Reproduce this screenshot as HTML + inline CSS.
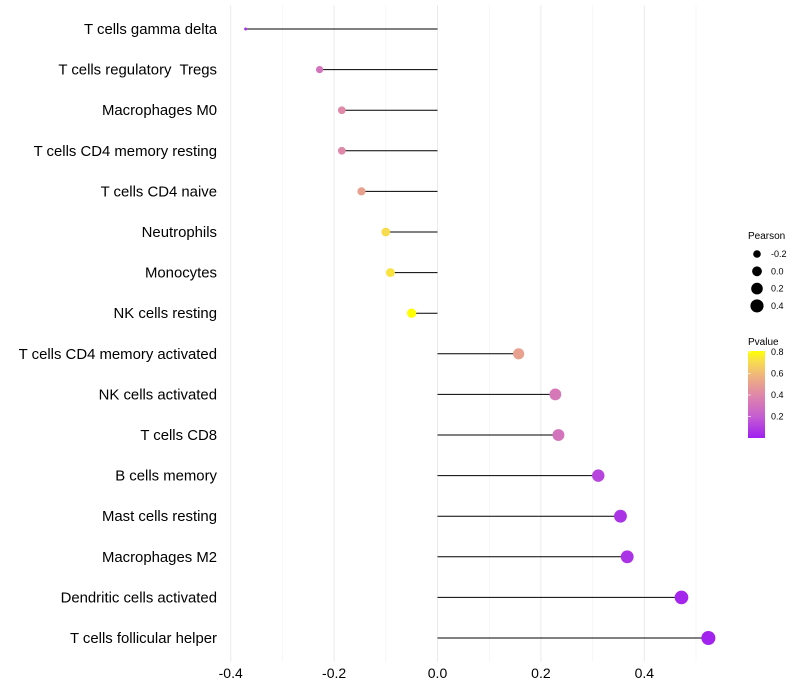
<!DOCTYPE html>
<html><head><meta charset="utf-8"><style>
html,body{margin:0;padding:0;background:#fff;}
svg{display:block;font-family:"Liberation Sans",Arial,sans-serif;}
text{white-space:pre;}
</style></head><body>
<svg id="chart" width="800" height="700">
<defs>
<linearGradient id="pgrad" x1="0" y1="1" x2="0" y2="0">
<stop offset="0" stop-color="#a020f0"/>
<stop offset="0.25" stop-color="#c65ed0"/>
<stop offset="0.5" stop-color="#e088a8"/>
<stop offset="0.7" stop-color="#eeb080"/>
<stop offset="0.88" stop-color="#f8dc50"/>
<stop offset="1" stop-color="#ffff00"/>
</linearGradient>
</defs>
<g id="grid"></g>
<g id="marks"></g>
<g id="ylabels"></g>
<g id="xlabels"></g>
<g font-size="9">
<text x="748" y="239" font-size="10">Pearson</text>
<g id="sizeleg"></g>
</g>
<g font-size="9">
<text x="748" y="345" font-size="10">Pvalue</text>
<rect x="748" y="351" width="17" height="87" fill="url(#pgrad)"/>
<g id="colleg"></g>
</g>
</svg>
<script>
const categories=["T cells gamma delta","T cells regulatory  Tregs","Macrophages M0","T cells CD4 memory resting","T cells CD4 naive","Neutrophils","Monocytes","NK cells resting","T cells CD4 memory activated","NK cells activated","T cells CD8","B cells memory","Mast cells resting","Macrophages M2","Dendritic cells activated","T cells follicular helper"];
const pearson=[-0.373,-0.23,-0.187,-0.187,-0.149,-0.102,-0.093,-0.052,0.155,0.226,0.232,0.309,0.352,0.365,0.47,0.522];
const pvalue=[0.05,0.3,0.4,0.4,0.5,0.7,0.72,0.88,0.5,0.32,0.3,0.12,0.06,0.06,0.02,0.01];
const xTicks=[-0.4,-0.2,0,0.2,0.4];
const xTickLabels=["-0.4","-0.2","0.0","0.2","0.4"];
const xMinor=[-0.3,-0.1,0.1,0.3,0.5];
const sizeLegend=[-0.2,0.0,0.2,0.4];
const sizeLegendLabels=["-0.2","0.0","0.2","0.4"];
const colorTicks=[0.2,0.4,0.6,0.8];
const colorTickLabels=["0.2","0.4","0.6","0.8"];

const NS="http://www.w3.org/2000/svg";
function X(v){return 437.5+v*517;}
function Y(i){return 29+i*40.6;}
function R(v){return v< -0.3 ? 1.5 : Math.sqrt(13+Math.max(0,v+0.23)/0.75*36);}
function col(p){
  const stops=[[0,[160,32,240]],[0.2,[198,94,208]],[0.4,[224,136,168]],[0.56,[238,176,128]],[0.7,[248,220,80]],[0.8,[255,255,0]]];
  p=Math.max(0,Math.min(0.8,p));
  for(let k=1;k<stops.length;k++){if(p<=stops[k][0]){const a=stops[k-1],b=stops[k];const t=(p-a[0])/(b[0]-a[0]);return "rgb("+a[1].map((c,j)=>Math.round(c+(b[1][j]-c)*t)).join(",")+")";}}
  return "rgb(255,255,0)";
}
function CY(p){return 438-p*107.5;}
function mk(tag,attrs,parent){const e=document.createElementNS(NS,tag);for(const k in attrs)e.setAttribute(k,attrs[k]);parent.appendChild(e);return e;}
const grid=document.getElementById('grid'),marks=document.getElementById('marks'),yl=document.getElementById('ylabels'),xl=document.getElementById('xlabels');
xMinor.forEach(v=>{const l=mk('line',{x1:X(v),x2:X(v),y1:5,y2:662,stroke:'#f2f2f2','stroke-width':0.6},grid);

});
xTicks.forEach((v,i)=>{const l=mk('line',{x1:X(v),x2:X(v),y1:5,y2:662,stroke:'#ebebeb','stroke-width':1},grid);


const t=mk('text',{x:X(v),y:678,'text-anchor':'middle','font-size':14,fill:'#000'},xl);t.textContent=xTickLabels[i];

});
categories.forEach((c,i)=>{
  const t=mk('text',{x:217,y:Y(i)+5,'text-anchor':'end','font-size':14.9,fill:'#000'},yl);t.textContent=c;
  
  
  const l=mk('line',{x1:X(0),x2:X(pearson[i]),y1:Y(i),y2:Y(i),stroke:'#000','stroke-width':1},marks);
  
  
  const d=mk('circle',{cx:X(pearson[i])+1,cy:Y(i),r:R(pearson[i]),fill:col(pvalue[i])},marks);
  
  
});
const sl=document.getElementById('sizeleg');
sizeLegend.forEach((v,i)=>{const y=254+i*17.3;
const c=mk('circle',{cx:757,cy:y,r:R(v),fill:'#000'},sl);


const t=mk('text',{x:771,y:y+3,'font-size':9},sl);t.textContent=sizeLegendLabels[i];

});
const cl=document.getElementById('colleg');
colorTicks.forEach((v,i)=>{const y=CY(v);
const l=mk('line',{x1:748,x2:751,y1:y,y2:y,stroke:'#fff','stroke-width':0.6},cl);


const t=mk('text',{x:771,y:y+3,'font-size':9},cl);t.textContent=colorTickLabels[i];

});
</script>
</body></html>
